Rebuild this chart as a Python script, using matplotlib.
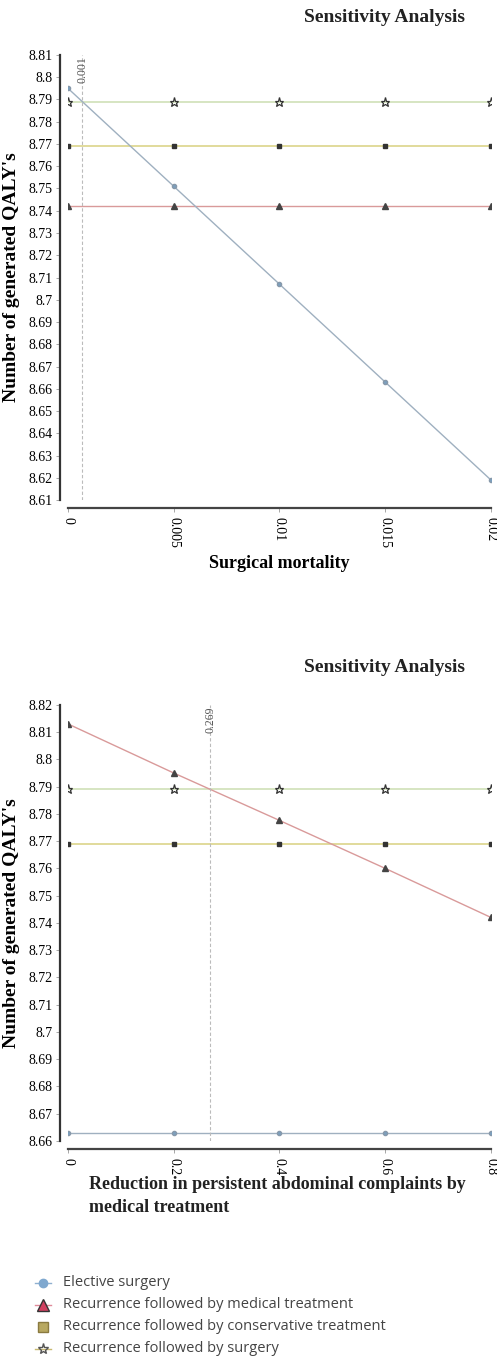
import matplotlib.pyplot as plt
from matplotlib.lines import Line2D

plt.rcParams['font.family'] = ['Liberation Serif', 'DejaVu Serif']

# Surgical mortality sweep
mort_x = [0, 0.005, 0.01, 0.015, 0.02]
mort_elective = [8.795, 8.751, 8.707, 8.663, 8.619]
mort_medical = [8.742, 8.742, 8.742, 8.742, 8.742]
mort_conservative = [8.769, 8.769, 8.769, 8.769, 8.769]
mort_surgery = [8.789, 8.789, 8.789, 8.789, 8.789]
mort_ticks = [0, 0.005, 0.01, 0.015, 0.02]
mort_yticks = [8.61, 8.62, 8.63, 8.64, 8.65, 8.66, 8.67, 8.68, 8.69, 8.7,
               8.71, 8.72, 8.73, 8.74, 8.75, 8.76, 8.77, 8.78, 8.79, 8.8, 8.81]

# Reduction in persistent complaints sweep
red_x = [0, 0.2, 0.4, 0.6, 0.8]
red_elective = [8.663, 8.663, 8.663, 8.663, 8.663]
red_medical = [8.813, 8.795, 8.7776, 8.760, 8.742]
red_conservative = [8.769, 8.769, 8.769, 8.769, 8.769]
red_surgery = [8.789, 8.789, 8.789, 8.789, 8.789]
red_ticks = [0, 0.2, 0.4, 0.6, 0.8]
red_yticks = [8.66, 8.67, 8.68, 8.69, 8.7, 8.71, 8.72, 8.73, 8.74, 8.75, 8.76,
              8.77, 8.78, 8.79, 8.8, 8.81, 8.82]

legend_labels = ['Elective surgery', 'Recurrence followed by medical treatment',
                 'Recurrence followed by conservative treatment',
                 'Recurrence followed by surgery']

C_EL = '#9fb0c0'
C_MED = '#d99a9a'
C_CON = '#dcd48a'
C_SUR = '#cfe0b8'
TXT = '#555555'
W, H = 497, 1361


def crossing(x, a, b):
    # first x where series a meets series b (linear between points)
    for i in range(len(x) - 1):
        d0 = a[i] - b[i]
        d1 = a[i + 1] - b[i + 1]
        if d0 == 0:
            return x[i]
        if d0 * d1 < 0:
            return x[i] + (x[i + 1] - x[i]) * d0 / (d0 - d1)
    return None


def draw(ax, x, el, med, con, sur, xticks, yticks, xlab, cross):
    ax.plot(x, sur, color=C_SUR, lw=1.2, marker='*', ms=6.5, mfc='none', mec='#333333', mew=0.9)
    ax.plot(x, con, color=C_CON, lw=1.2, marker='s', ms=2.5, mfc='#333333', mec='#333333')
    ax.plot(x, med, color=C_MED, lw=1.0, marker='^', ms=4.5, mfc='#444444', mec='#444444')
    ax.plot(x, el, color=C_EL, lw=1.0, marker='o', ms=3, mfc='#7aa0bf', mec='#8899aa')
    ax.axvline(cross, color='#bbbbbb', lw=0.8, ls=(0, (3, 2)))
    ax.text(cross, yticks[-1] - 0.0005, f'{cross:.3f}', rotation=90, ha='center', va='top',
            fontsize=8.5, color=TXT)
    ax.set_xlim(xticks[0], xticks[-1])
    ax.set_ylim(yticks[0], yticks[-1])
    ax.set_xticks(xticks)
    ax.set_xticklabels([f'{t:g}' for t in xticks], fontsize=6.8, color=TXT)
    ax.set_yticks(yticks)
    ax.set_yticklabels([f'{t:g}' for t in yticks], fontsize=8.5, color=TXT)
    for s in ['top', 'right']:
        ax.spines[s].set_visible(False)
    ax.spines['left'].set_position(('outward', 6))
    ax.spines['bottom'].set_position(('outward', 6))
    ax.spines['left'].set_linewidth(1.6)
    ax.spines['bottom'].set_linewidth(1.6)
    ax.spines['left'].set_color('#333333')
    ax.spines['bottom'].set_color('#444444')
    ax.tick_params(axis='both', length=3, width=0.6, color='#999999', pad=2)
    ax.tick_params(axis='x', labelrotation=-90, pad=3)
    ax.set_ylabel("Number of generated QALY's", fontsize=14, fontweight='bold', labelpad=6)
    if xlab:
        ax.set_xlabel(xlab, fontsize=13, fontweight='bold', labelpad=5)


fig = plt.figure(figsize=(W / 100, H / 100), dpi=100)

ax1 = fig.add_axes([0.1368, 0.6326, 0.851, 0.327])
draw(ax1, mort_x, mort_elective, mort_medical, mort_conservative, mort_surgery,
     mort_ticks, mort_yticks, 'Surgical mortality',
     crossing(mort_x, mort_elective, mort_surgery))
fig.text(385 / W, 1 - 17 / H, 'Sensitivity Analysis', ha='center', va='center',
         fontsize=14, fontweight='bold', color='#222222')

ax2 = fig.add_axes([0.1368, 0.1617, 0.851, 0.3204])
draw(ax2, red_x, red_elective, red_medical, red_conservative, red_surgery,
     red_ticks, red_yticks, '', crossing(red_x, red_medical, red_surgery))
fig.text(89 / W, 1 - 1196 / H, 'Reduction in persistent abdominal complaints by\nmedical treatment',
         ha='left', va='center', fontsize=13, fontweight='bold', color='#222222',
         linespacing=1.45)
fig.text(385 / W, 1 - 668 / H, 'Sensitivity Analysis', ha='center', va='center',
         fontsize=14, fontweight='bold', color='#222222')

# legend rows, laid out by hand
styles = [
    dict(color='#8fb0d0', lw=1, marker='o', ms=6, mfc='#7fa8cf', mec='#7fa8cf'),
    dict(color='#e08a9a', lw=1, marker='^', ms=8, mfc='#d04060', mec='#333333'),
    dict(color='none', lw=0, marker='s', ms=7, mfc='#b8a860', mec='#8a7a40'),
    dict(color='#c8b870', lw=1, marker='*', ms=8, mfc='none', mec='#555555'),
]
for i, (lab, st) in enumerate(zip(legend_labels, styles)):
    yy = 1 - (1283 + 22 * i) / H
    fig.add_artist(Line2D([35 / W, 43 / W, 51 / W], [yy, yy, yy], markevery=[1],
                          transform=fig.transFigure, **st))
    fig.text(63 / W, yy, lab, ha='left', va='center', fontsize=10.5,
             family='Open Sans', color='#444444')

fig.savefig('out.png', dpi=100, facecolor='white')
